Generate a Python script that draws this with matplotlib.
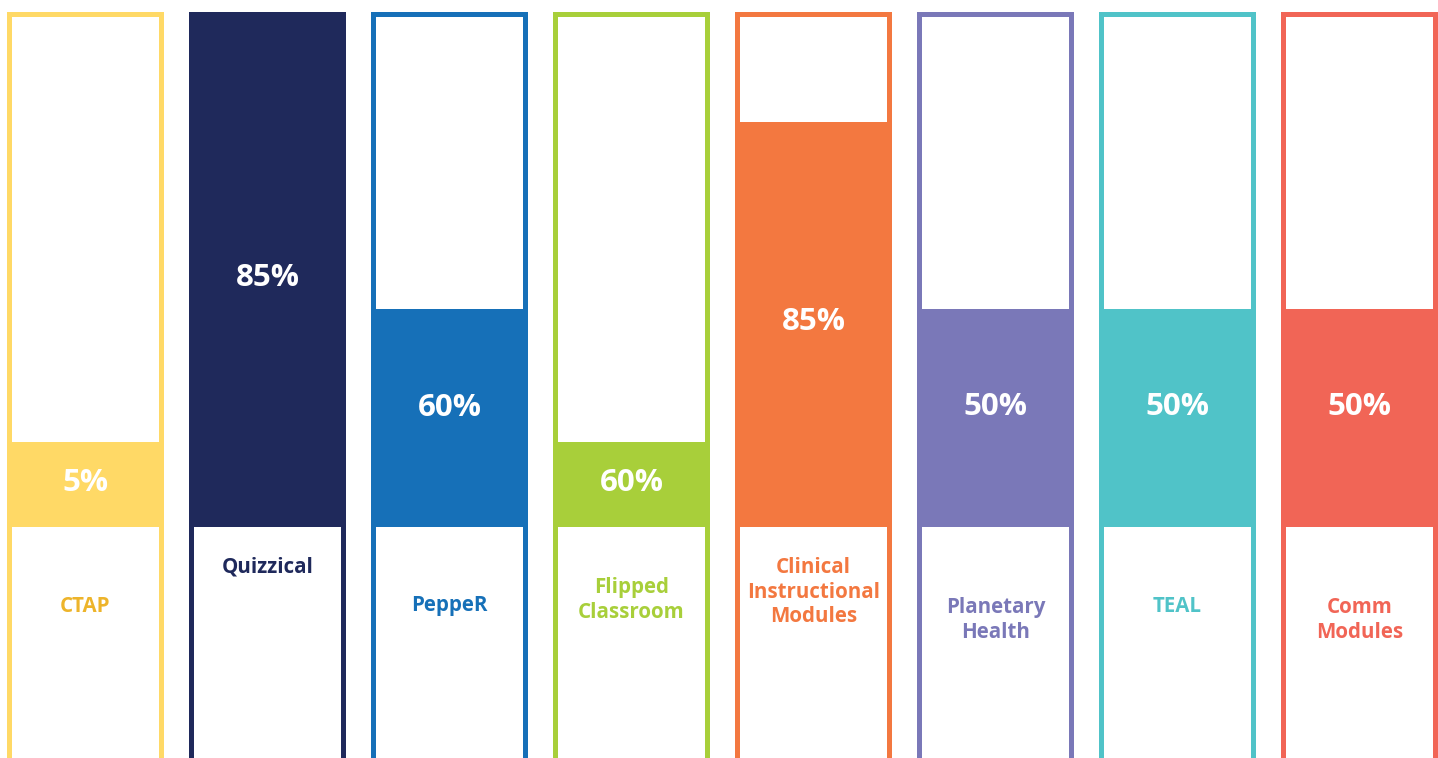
import matplotlib.pyplot as plt
import numpy as np

# Data
programs = ["CTAP", "Quizzical", "PeppeR", "Flipped\nClassroom",
            "Clinical\nInstructional\nModules", "Planetary\nHealth", "TEAL", "Comm\nModules"]
pct_labels = ["5%", "85%", "60%", "60%", "85%", "50%", "50%", "50%"]
fill_levels = [16.5, 100, 42.3, 16.5, 78.6, 42.3, 42.3, 42.3]

# Style / layout
colors = ["#FFD966", "#1F295B", "#1670B8", "#A8CF3A", "#F37840", "#7A78B8", "#50C3C8", "#F16556"]
text_colors = ["#EDB42B", "#1F295B", "#1670B8", "#A8CF3A", "#F37840", "#7A78B8", "#50C3C8", "#F16556"]
label_y_px = [607, 567, 605, 600, 592, 620, 607, 620]
pct_y_px = [483, 278, 408, 483, 322, 407, 407, 407]

PX_Y = 5.15   # pixels per y unit
PX_X = 182.0  # pixels per column
BASE_PX = 527

fig = plt.figure(figsize=(14.38, 7.58), dpi=100, facecolor='w')
ax = fig.add_axes([0, 0, 1, 1])
ax.set_xlim(-85.5 / PX_X, (1438 - 85.5) / PX_X)
ax.set_ylim((BASE_PX - 758) / PX_Y, BASE_PX / PX_Y)
ax.axis('off')

x = np.arange(len(programs))
w = 157 / PX_X
bx = 5 / PX_X
by = 5 / PX_Y
bottom = -60

# outer border, inner white, fill
ax.bar(x, 100 - bottom, bottom=bottom, width=w, color=colors, linewidth=0)
ax.bar(x, 100 - by - bottom, bottom=bottom, width=w - 2 * bx, color='white', linewidth=0)
ax.bar(x, fill_levels, bottom=0, width=w, color=colors, linewidth=0)

for i in range(len(programs)):
    ax.text(x[i], (BASE_PX - pct_y_px[i]) / PX_Y, pct_labels[i], ha='center', va='center',
            color='white', fontsize=22.5, fontweight='bold', family='Open Sans')
    ax.text(x[i], (BASE_PX - label_y_px[i]) / PX_Y, programs[i], ha='center', va='center',
            color=text_colors[i], fontsize=14.8, fontweight='bold', family='Open Sans',
            linespacing=1.22)

fig.savefig('out.png', dpi=100, facecolor='w')
